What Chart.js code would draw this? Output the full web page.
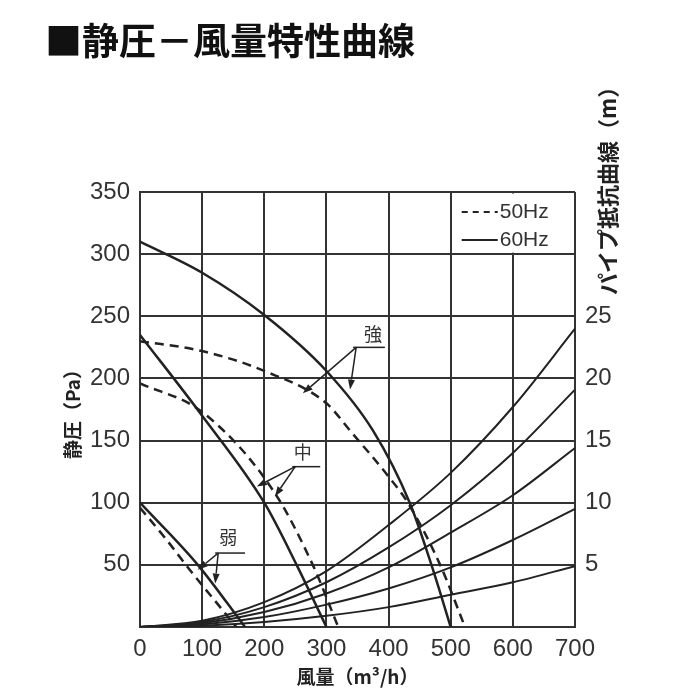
<!DOCTYPE html>
<html lang="ja">
<head>
<meta charset="utf-8">
<title>静圧－風量特性曲線</title>
<script src="https://cdn.jsdelivr.net/npm/chart.js@4.4.1/dist/chart.umd.min.js"></script>
<style>
  html, body { margin: 0; padding: 0; background: #fff; }
  #chart { display: block; }
</style>
</head>
<body>
<canvas id="chart" width="700" height="700"></canvas>
<script>
// === data ===
// fan curves: flow (m3/h) vs static pressure (Pa)
const strong60Flow = [0, 100, 200, 300, 375, 434, 469, 500];
const strong60Pa   = [310, 285, 251, 206, 158, 100, 50, 0];
const strong50Flow = [0, 100, 200, 300, 338, 400, 431, 483, 523];
const strong50Pa   = [230, 222, 206, 180, 158, 121, 100, 50, 0];
const mid60Flow = [0, 100, 200, 252, 300];
const mid60Pa   = [235, 170, 100, 50, 0];
const mid50Flow = [0, 100, 214, 278, 319];
const mid50Pa   = [196, 173, 110, 50, 0];
const weak60Flow = [0, 93, 169];
const weak60Pa   = [100, 50, 0];
const weak50Flow = [0, 43, 80, 129, 155];
const weak50Pa   = [96, 70, 46, 16, 0];

// pipe resistance curves (m), same flow points for all five
const pipeFlow = [0, 100, 200, 300, 400, 500, 600, 700];
const pipeA = [0, 0.5, 2.0, 4.5, 8.2, 12.4, 17.7, 24.0];
const pipeB = [0, 0.4, 1.6, 3.6, 6.4, 9.8, 14.0, 19.1];
const pipeC = [0, 0.3, 1.2, 2.7, 4.8, 7.6, 10.6, 14.4];
const pipeD = [0, 0.2, 0.8, 1.8, 3.1, 4.8, 7.0, 9.5];
const pipeE = [0, 0.1, 0.4, 0.9, 1.6, 2.6, 3.6, 4.9];

// labels
const chartTitle = '■静圧－風量特性曲線';
const xTitle = '風量（m³/h）';
const yTitle = '静圧（Pa）';
const y2Title = 'パイプ抵抗曲線（m）';
const legendLabels = ['50Hz', '60Hz'];
const speedLabels = ['強', '中', '弱'];

// === callout placement (data coords) ===
const callouts = [
  { text: speedLabels[0], at: [375, 236], line: [343, 394, 225], tips: [[262, 188], [338, 191]] },
  { text: speedLabels[1], at: [262, 141], line: [245, 290, 129], tips: [[188, 113], [217, 105]] },
  { text: speedLabels[2], at: [142, 72],  line: [121, 169, 59.5], tips: [[93, 46], [121, 35]] }
];

const INK = '#222';
const GRID = '#333';
const JP = '"Noto Sans CJK JP", sans-serif';
const NUM = '"Liberation Sans", Arial, sans-serif';

const toPoints = (xs, ys) => xs.map((x, i) => ({ x, y: ys[i] }));

const fanLine = (label, xs, ys, dashed) => ({
  label,
  data: toPoints(xs, ys),
  yAxisID: 'y',
  borderColor: INK,
  borderWidth: 2.5,
  borderDash: dashed ? [9, 6] : [],
  pointRadius: 0,
  cubicInterpolationMode: 'monotone',
  fill: false
});

const pipeLine = (label, ys) => ({
  label,
  data: toPoints(pipeFlow, ys),
  yAxisID: 'y2',
  borderColor: INK,
  borderWidth: 2,
  pointRadius: 0,
  cubicInterpolationMode: 'monotone',
  fill: false
});

// little filled arrow from (x0,y0) to (x1,y1)
function drawArrow(ctx, x0, y0, x1, y1) {
  const ang = Math.atan2(y1 - y0, x1 - x0);
  const len = 10, half = 3.5;
  const bx = x1 - len * Math.cos(ang), by = y1 - len * Math.sin(ang);
  ctx.beginPath();
  ctx.moveTo(x0, y0);
  ctx.lineTo(bx, by);
  ctx.stroke();
  ctx.beginPath();
  ctx.moveTo(x1, y1);
  ctx.lineTo(bx + half * Math.sin(ang), by - half * Math.cos(ang));
  ctx.lineTo(bx - half * Math.sin(ang), by + half * Math.cos(ang));
  ctx.closePath();
  ctx.fill();
}

const overlay = {
  id: 'overlay',
  // legend sits in the top right grid cell, over the grid
  beforeDatasetsDraw(chart) {
    const { ctx, scales: { x, y } } = chart;
    const left = x.getPixelForValue(500), right = x.getPixelForValue(700);
    const top = y.getPixelForValue(350), bottom = y.getPixelForValue(300);
    ctx.save();
    ctx.fillStyle = '#fff';
    ctx.fillRect(left + 1.5, top + 1.5, right - left - 3, bottom - top - 3);
    ctx.strokeStyle = INK;
    ctx.fillStyle = '#333';
    ctx.lineWidth = 2;
    ctx.font = '21px ' + NUM;
    ctx.textBaseline = 'middle';
    legendLabels.forEach((lbl, i) => {
      const yy = top + 20 + i * 28;
      ctx.setLineDash(i === 0 ? [6, 5] : []);
      ctx.beginPath();
      ctx.moveTo(left + 11, yy);
      ctx.lineTo(left + 47, yy);
      ctx.stroke();
      ctx.fillText(lbl, left + 49, yy);
    });
    ctx.restore();
  },
  afterDatasetsDraw(chart) {
    const { ctx, chartArea, scales: { x, y } } = chart;
    ctx.save();
    ctx.strokeStyle = INK;
    ctx.fillStyle = INK;
    ctx.lineWidth = 1.5;
    callouts.forEach(c => {
      const ux0 = x.getPixelForValue(c.line[0]);
      const ux1 = x.getPixelForValue(c.line[1]);
      const uy = y.getPixelForValue(c.line[2]);
      ctx.beginPath();
      ctx.moveTo(ux0, uy);
      ctx.lineTo(ux1, uy);
      ctx.stroke();
      c.tips.forEach(t => drawArrow(ctx, ux0 + 3, uy, x.getPixelForValue(t[0]), y.getPixelForValue(t[1])));
      ctx.fillStyle = '#333';
      ctx.font = '18px ' + JP;
      ctx.textAlign = 'center';
      ctx.textBaseline = 'middle';
      ctx.fillText(c.text, x.getPixelForValue(c.at[0]), y.getPixelForValue(c.at[1]));
      ctx.fillStyle = INK;
    });
    // right axis title, reads bottom to top
    ctx.translate(chartArea.right + 33, chartArea.top + 103);
    ctx.rotate(-Math.PI / 2);
    ctx.fillStyle = '#222';
    ctx.font = 'bold 22px ' + JP;
    ctx.textAlign = 'left';
    ctx.textBaseline = 'middle';
    ctx.fillText(y2Title, 0, 0);
    ctx.restore();
  }
};

new Chart(document.getElementById('chart'), {
  type: 'line',
  data: {
    datasets: [
      fanLine('強 60Hz', strong60Flow, strong60Pa, false),
      fanLine('強 50Hz', strong50Flow, strong50Pa, true),
      fanLine('中 60Hz', mid60Flow, mid60Pa, false),
      fanLine('中 50Hz', mid50Flow, mid50Pa, true),
      fanLine('弱 60Hz', weak60Flow, weak60Pa, false),
      fanLine('弱 50Hz', weak50Flow, weak50Pa, true),
      pipeLine('A', pipeA),
      pipeLine('B', pipeB),
      pipeLine('C', pipeC),
      pipeLine('D', pipeD),
      pipeLine('E', pipeE)
    ]
  },
  options: {
    responsive: false,
    animation: false,
    events: [],
    layout: { padding: { left: 45, top: 0, right: 0, bottom: 0 } },
    plugins: {
      legend: { display: false },
      tooltip: { enabled: false },
      title: {
        display: true,
        text: chartTitle,
        align: 'start',
        color: '#111',
        font: { family: JP, size: 37, weight: 'bold' },
        padding: { top: 19, bottom: 128.6 }
      }
    },
    scales: {
      x: {
        type: 'linear',
        min: 0,
        max: 700,
        ticks: { stepSize: 100, color: '#333', padding: 8, font: { family: NUM, size: 24 } },
        grid: { color: GRID, lineWidth: 2, drawTicks: false },
        border: { color: GRID, width: 2 },
        title: { display: true, text: xTitle, color: '#222', font: { family: JP, size: 19, weight: 'bold' }, padding: { top: 0, bottom: 12 } },
        afterFit: s => { s.height = 73; }
      },
      y: {
        position: 'left',
        min: 0,
        max: 350,
        ticks: { stepSize: 50, color: '#333', padding: 10, font: { family: NUM, size: 24 }, callback: v => (v === 0 ? '' : v) },
        grid: { color: GRID, lineWidth: 2, drawTicks: false },
        border: { color: GRID, width: 2 },
        title: { display: true, text: yTitle, color: '#222', font: { family: JP, size: 19, weight: 'bold' }, padding: { top: 16, bottom: 0 } },
        afterFit: s => { s.width = 95; }
      },
      y2: {
        position: 'right',
        min: 0,
        max: 35,
        ticks: { stepSize: 5, color: '#333', padding: 10, font: { family: NUM, size: 24 }, callback: v => (v >= 5 && v <= 25 ? v : '') },
        grid: { display: false, drawTicks: false },
        border: { display: false },
        afterFit: s => { s.width = 125; }
      }
    }
  },
  plugins: [overlay]
});
</script>
</body>
</html>
